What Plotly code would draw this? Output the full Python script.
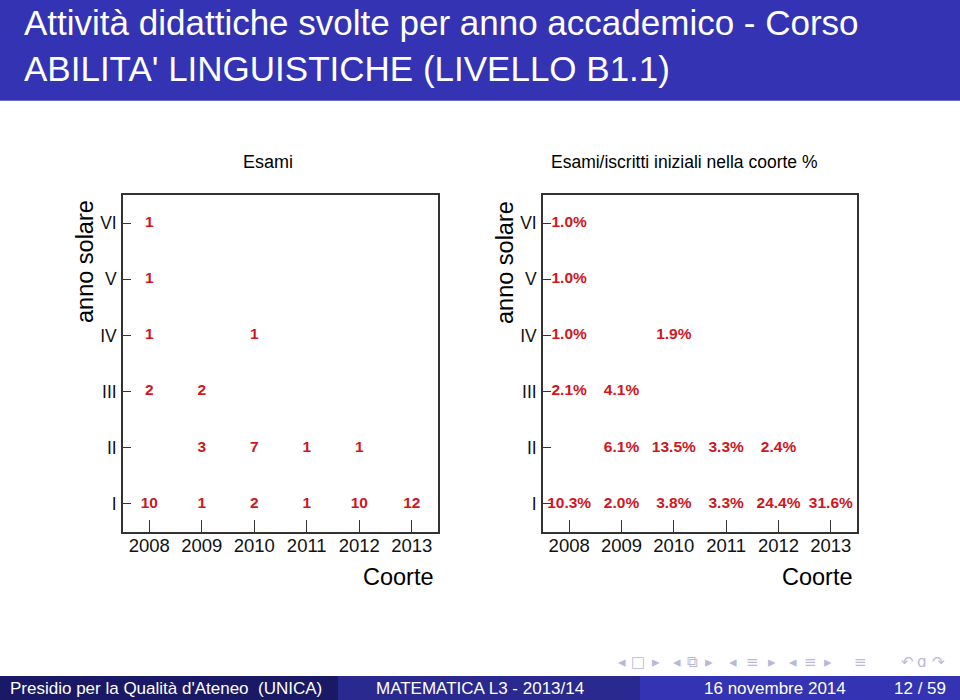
import plotly.graph_objects as go

# ---------------- data ----------------
cohorts = [2008, 2009, 2010, 2011, 2012, 2013]
year_labels = ["I", "II", "III", "IV", "V", "VI"]

esami_I = [10, 1, 2, 1, 10, 12]
esami_II = [None, 3, 7, 1, 1, None]
esami_III = [2, 2, None, None, None, None]
esami_IV = [1, None, 1, None, None, None]
esami_V = [1, None, None, None, None, None]
esami_VI = [1, None, None, None, None, None]

perc_I = [10.3, 2.0, 3.8, 3.3, 24.4, 31.6]
perc_II = [None, 6.1, 13.5, 3.3, 2.4, None]
perc_III = [2.1, 4.1, None, None, None, None]
perc_IV = [1.0, None, 1.9, None, None, None]
perc_V = [1.0, None, None, None, None, None]
perc_VI = [1.0, None, None, None, None, None]

title_line1 = "Attività didattiche svolte per anno accademico - Corso"
title_line2 = "ABILITA' LINGUISTICHE (LIVELLO B1.1)"
left_title = "Esami"
right_title = "Esami/iscritti iniziali nella coorte %"
y_title = "anno solare"
x_title = "Coorte"
footer_left = "Presidio per la Qualità d'Ateneo  (UNICA)"
footer_mid = "MATEMATICA L3 - 2013/14"
footer_date = "16 novembre 2014"
footer_page = "12 / 59"

# ---------------- style ----------------
W, H = 960, 700
FONT = "Liberation Sans, Arial, Helvetica, sans-serif"
RED = "#d0161e"
BLUE = "#3333b3"
AX = "#333333"


def px(x):
    return x / W


def py(y):
    return 1 - y / H


fig = go.Figure()

esami_rows = [esami_I, esami_II, esami_III, esami_IV, esami_V, esami_VI]
perc_rows = [perc_I, perc_II, perc_III, perc_IV, perc_V, perc_VI]

for i, row in enumerate(esami_rows):
    xs = [c for c, v in zip(cohorts, row) if v is not None]
    ts = [str(v) for v in row if v is not None]
    fig.add_trace(go.Scatter(
        x=xs, y=[i + 1] * len(xs), text=ts, mode="text",
        textposition="middle center",
        textfont=dict(family=FONT, size=15.5, color=RED, weight="bold"),
        xaxis="x", yaxis="y", hoverinfo="skip", cliponaxis=False))

for i, row in enumerate(perc_rows):
    xs = [c for c, v in zip(cohorts, row) if v is not None]
    ts = [f"{v:.1f}%" for v in row if v is not None]
    fig.add_trace(go.Scatter(
        x=xs, y=[i + 1] * len(xs), text=ts, mode="text",
        textposition="middle center",
        textfont=dict(family=FONT, size=15.5, color=RED, weight="bold"),
        xaxis="x2", yaxis="y2", hoverinfo="skip", cliponaxis=False))

xcommon = dict(range=[2007.5, 2013.5], tickvals=cohorts,
               ticktext=[str(c) for c in cohorts],
               ticks="inside", ticklen=12, tickwidth=1.2, tickcolor=AX,
               showline=True, linecolor=AX, linewidth=1.6, mirror=True,
               showgrid=False, zeroline=False, ticklabelstandoff=-4,
               tickfont=dict(family=FONT, size=18.5, color="#111111"))
ycommon = dict(range=[0.5, 6.5], tickvals=[1, 2, 3, 4, 5, 6],
               ticktext=year_labels,
               ticks="inside", ticklen=8, tickwidth=1.2, tickcolor=AX,
               showline=True, linecolor=AX, linewidth=1.6, mirror=True,
               showgrid=False, zeroline=False, ticklabelstandoff=1,
               tickfont=dict(family=FONT, size=17.5, color="#111111"))

fig.update_layout(
    width=W, height=H,
    margin=dict(l=0, r=0, t=0, b=0),
    paper_bgcolor="white", plot_bgcolor="white",
    showlegend=False,
    xaxis=dict(domain=[px(123), px(438)], anchor="y", **xcommon),
    yaxis=dict(domain=[py(532), py(195)], anchor="x", **ycommon),
    xaxis2=dict(domain=[px(543), px(857)], anchor="y2", **xcommon),
    yaxis2=dict(domain=[py(532), py(195)], anchor="x2", **ycommon),
)

shapes = [
    # header band
    dict(type="rect", xref="paper", yref="paper", x0=0, x1=1, y0=py(100), y1=1,
         fillcolor=BLUE, line=dict(width=0), layer="below"),
    dict(type="line", xref="paper", yref="paper", x0=0, x1=1, y0=py(100.5), y1=py(100.5),
         line=dict(color="#7070c8", width=1)),
    # footer segments
    dict(type="rect", xref="paper", yref="paper", x0=0, x1=px(338), y0=0, y1=py(676),
         fillcolor="#191966", line=dict(width=0), layer="below"),
    dict(type="rect", xref="paper", yref="paper", x0=px(338), x1=px(640), y0=0, y1=py(676),
         fillcolor="#29298f", line=dict(width=0), layer="below"),
    dict(type="rect", xref="paper", yref="paper", x0=px(640), x1=1, y0=0, y1=py(676),
         fillcolor=BLUE, line=dict(width=0), layer="below"),
]
fig.update_layout(shapes=shapes)

ann = []


def add(text, x, y, size, color="#000000", xanchor="center", angle=0, family=FONT):
    ann.append(dict(text=text, x=px(x), y=py(y), xref="paper", yref="paper",
                    xanchor=xanchor, yanchor="middle", showarrow=False,
                    textangle=angle, font=dict(family=family, size=size, color=color)))


# header
add(title_line1, 22, 23, 35, "white", "left")
add(title_line2, 22, 68, 35, "white", "left")
# panel titles
add(left_title, 268, 162, 18)
add(right_title, 684, 162, 17.5)
add(y_title, 85, 262, 23.5, angle=-90)
add(y_title, 505, 262, 23.5, angle=-90)
add(x_title, 398, 577, 23.5)
add(x_title, 817, 577, 23.5)
# footer
add(footer_left, 8, 688, 17, "white", "left")
add(footer_mid, 480, 688, 17, "white")
add(footer_date, 775, 688, 17, "white")
add(footer_page, 920, 688, 17, "white")

# navigation symbols
nav = [("◂", 622), ("□", 638), ("▸", 656), ("◂", 677), ("⧉", 692), ("▸", 709),
       ("◂", 733), ("≡", 752), ("▸", 772), ("◂", 793), ("≡", 810), ("▸", 828),
       ("≡", 860), ("↶", 907), ("ɑ", 922), ("↷", 938)]
for s, x in nav:
    add(s, x, 662, 15, "#b8b8d8", family="DejaVu Sans, sans-serif")

fig.update_layout(annotations=ann)

fig.write_html("out.html")
